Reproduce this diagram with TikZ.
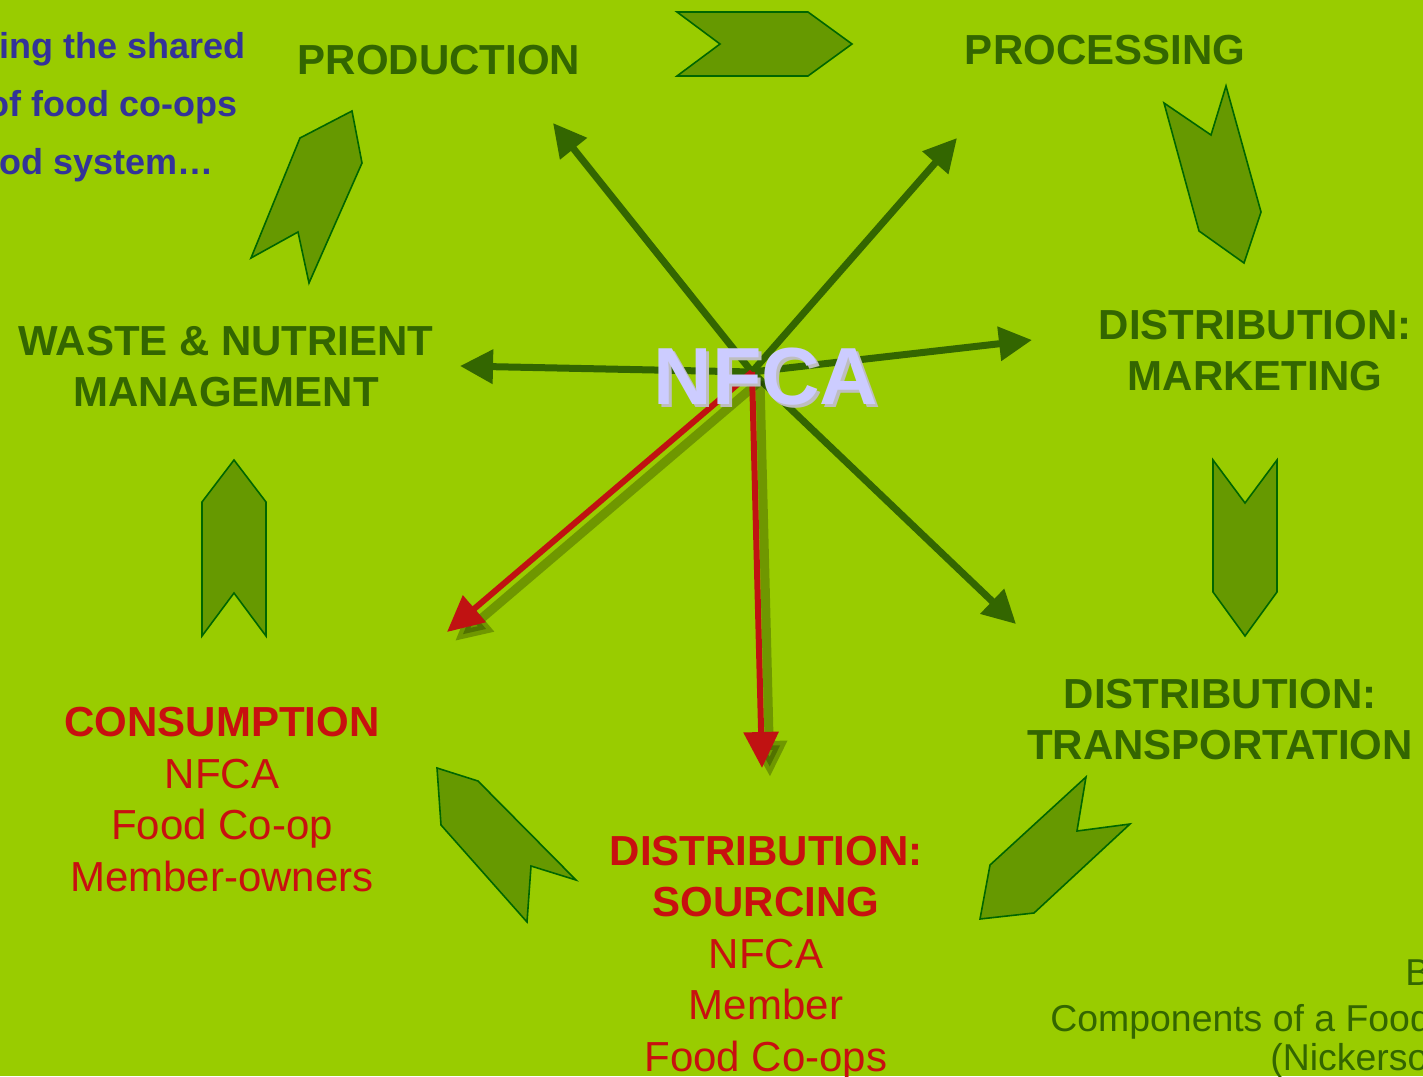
\documentclass[tikz,border=0pt]{standalone}
\usepackage{fontspec}
\setmainfont{Liberation Sans}
\usetikzlibrary{arrows.meta,positioning}
\definecolor{leaf}{HTML}{99CC00}
\definecolor{stagegreen}{HTML}{336600}
\definecolor{chevfill}{HTML}{669900}
\definecolor{chevline}{HTML}{006600}
\definecolor{coopred}{RGB}{200,16,16}
\definecolor{rayred}{RGB}{192,18,18}
\definecolor{introblue}{HTML}{333399}
\definecolor{nfcalav}{HTML}{CCCCFF}
\definecolor{nfcashade}{HTML}{BEBEBE}

\begin{document}
\begin{tikzpicture}[x=0.5pt,y=-0.5pt,
    chev/.style={fill=chevfill,draw=chevline,line width=0.8pt},
    ray/.style={draw=stagegreen,line width=3.5pt,-{Triangle[length=16.5pt,width=16.5pt]}},
    redray/.style={draw=rayred,line width=3pt,-{Triangle[length=18pt,width=17pt]}},
    rayshade/.style={draw=black!70!stagegreen,opacity=.3,line width=4.5pt,-{Triangle[length=18pt,width=17pt]}},
    stage/.style={font=\bfseries\fontsize{21}{25.5}\selectfont,text=stagegreen,align=center,inner sep=0pt,anchor=base},
    redstage/.style={font=\fontsize{21}{25.7}\selectfont,text=coopred,align=center,inner sep=0pt,anchor=base},
    intro/.style={font=\bfseries\fontsize{18}{21}\selectfont,text=introblue,inner sep=0pt,anchor=base east},
    source/.style={font=\fontsize{18.7}{22}\selectfont,text=stagegreen,inner sep=0pt,anchor=base west},
    hubtxt/.style={font=\bfseries\fontsize{40.5}{48}\selectfont,inner sep=0pt,anchor=base}]
  \useasboundingbox (0,0) rectangle (1423,1076);
  \fill[leaf] (0,0) rectangle (1423,1076);

  % chevrons round the cycle
  \draw[chev] (677,12) -- (808,12) -- (852,44) -- (808,76) -- (677,76) -- (720,44) -- cycle;
  \draw[chev] (1164,103) -- (1211,135) -- (1226,86) -- (1261,212) -- (1244,263) -- (1199,231) -- cycle;
  \draw[chev] (1213,460) -- (1245,503) -- (1277,460) -- (1277,592) -- (1245,636) -- (1213,592) -- cycle;
  \draw[chev] (1086,777) -- (1077,831) -- (1130,824) -- (1034,913) -- (980,919) -- (990,865) -- cycle;
  \draw[chev] (437,768) -- (478,781) -- (576,880) -- (531,866) -- (527,922) -- (441,825) -- cycle;
  \draw[chev] (202,502) -- (234,460) -- (266,502) -- (266,636) -- (234,593) -- (202,636) -- cycle;
  \draw[chev] (300,138) -- (352,111) -- (362,163) -- (309,283) -- (298,232) -- (251,258) -- cycle;

  % rays out of the hub
  \coordinate (core) at (752,372);
  \coordinate (tProd) at (553,123);
  \coordinate (tProc) at (957,138);
  \coordinate (tWaste) at (460,366);
  \coordinate (tMark) at (1032,340);
  \coordinate (tTrans) at (1016,624);
  \coordinate (tCons) at (447,632);
  \coordinate (tSrc) at (762,768);
  \draw[ray] (core) -- (tProd);
  \draw[ray] (core) -- (tProc);
  \draw[ray] (core) -- (tWaste);
  \draw[ray] (core) -- (tMark);
  \draw[ray] (core) -- (tTrans);
  \draw[rayshade] ([shift={(8,9)}]core) -- ([shift={(8,9)}]tCons);
  \draw[rayshade] ([shift={(8,9)}]core) -- ([shift={(8,9)}]tSrc);
  \draw[redray] (core) -- (tCons);
  \draw[redray] (core) -- (tSrc);

  % stages
  \node[stage] (prod) at (439,74) {PRODUCTION};
  \node[stage] (proc) at (1105,64) {PROCESSING};
  \node[stage] (mark) at (1255,390) {DISTRIBUTION:\\MARKETING};
  \node[stage] (trans) at (1220,759) {DISTRIBUTION:\\TRANSPORTATION};
  \node[stage] (waste) at (226,406) {WASTE \& NUTRIENT\\MANAGEMENT};
  \node[redstage] (src) at (766,1071) {\textbf{DISTRIBUTION:}\\\textbf{SOURCING}\\NFCA\\Member\\Food Co-ops};
  \node[redstage] (cons) at (222,891) {\textbf{CONSUMPTION}\\NFCA\\Food Co-op\\Member-owners};

  % cut-off captions at the edges
  \node[intro] (introA) at (246,58) {ing the shared};
  \node[intro] (introB) at (238,116) {of food co-ops};
  \node[intro] (introC) at (214,174) {od system\ldots};
  \node[source] (srcA) at (1405,985) {B};
  \node[source] (srcB) at (1050,1031) {Components of a Food};
  \node[source] (srcC) at (1270,1070) {(Nickerso};

  % hub label
  \node[hubtxt,text=nfcashade] (hubshade) at (769,407) {NFCA};
  \node[hubtxt,text=nfcalav] (hub) at (766,404) {NFCA};
\end{tikzpicture}
\end{document}
